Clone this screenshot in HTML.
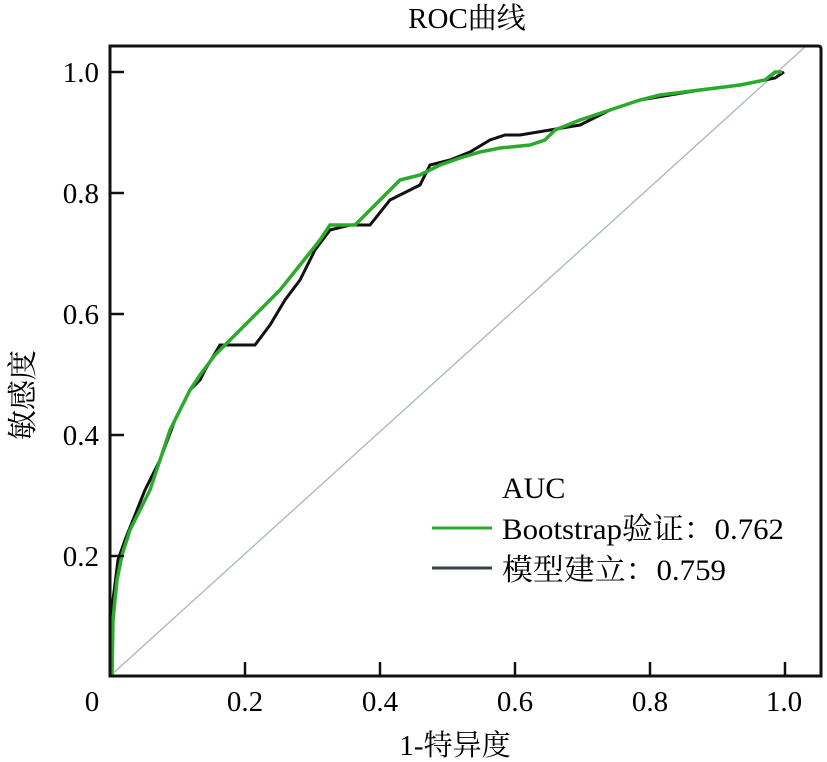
<!DOCTYPE html>
<html><head><meta charset="utf-8"><style>
body{margin:0;background:#fff}
svg{display:block}
text{font-family:"Liberation Serif","Noto Serif CJK SC",serif;fill:#000}
</style></head><body>
<svg width="827" height="762" viewBox="0 0 827 762">
<text x="467" y="28" font-size="29" text-anchor="middle">ROC曲线</text>
<line x1="110" y1="676" x2="806" y2="46" stroke="#a9b4c2" stroke-width="1.3"/>
<polyline fill="none" stroke="#111" stroke-width="3" points="112,676 113,600 118,560 125,540 135,515 145,490 160,460 175,420 190,390 200,380 205,370 220,345 235,345 255,345 270,325 285,300 300,280 315,250 330,230 350,225 370,225 390,200 410,190 420,185 430,165 450,160 470,152 490,140 505,135 520,135 550,130 580,125 610,110 640,100 700,90 740,85 775,78 784,72"/>
<polyline fill="none" stroke="#2bab2b" stroke-width="3.5" points="112,676 113,620 117,580 122,555 130,530 140,510 150,490 160,460 170,430 180,410 190,390 200,375 215,355 230,340 245,325 260,310 280,290 300,265 320,240 330,225 355,225 370,210 385,195 400,180 420,175 440,165 460,158 480,152 500,148 530,145 545,140 555,130 580,120 610,110 640,100 660,95 700,90 740,85 765,80 775,72 782,72"/>
<path d="M110,46 H818 Q821,46 821,49 V676 H110 Z" fill="none" stroke="#111" stroke-width="3"/>
<g stroke="#111" stroke-width="2.5">
<line x1="245" y1="676" x2="245" y2="662"/><line x1="380" y1="676" x2="380" y2="662"/>
<line x1="515" y1="676" x2="515" y2="662"/><line x1="650" y1="676" x2="650" y2="662"/>
<line x1="785" y1="676" x2="785" y2="662"/>
<line x1="110" y1="72" x2="124" y2="72"/><line x1="110" y1="193" x2="124" y2="193"/>
<line x1="110" y1="314" x2="124" y2="314"/><line x1="110" y1="435" x2="124" y2="435"/>
<line x1="110" y1="556" x2="124" y2="556"/>
</g>
<g font-size="29" text-anchor="middle">
<text x="92" y="711">0</text><text x="245" y="711">0.2</text><text x="380" y="711">0.4</text>
<text x="515" y="711">0.6</text><text x="650" y="711">0.8</text><text x="784" y="711">1.0</text>
</g>
<g font-size="29" text-anchor="end">
<text x="99" y="82">1.0</text><text x="99" y="203">0.8</text><text x="99" y="324">0.6</text>
<text x="99" y="445">0.4</text><text x="99" y="566">0.2</text>
</g>
<text x="455" y="755" font-size="29" text-anchor="middle">1-特异度</text>
<text transform="translate(33,395) rotate(-90)" font-size="30" text-anchor="middle">敏感度</text>
<text x="502" y="498" font-size="30">AUC</text>
<line x1="432" y1="528" x2="492" y2="528" stroke="#2bab2b" stroke-width="3"/>
<line x1="432" y1="568" x2="492" y2="568" stroke="#3a4048" stroke-width="3"/>
<text x="502" y="539" font-size="30" textLength="282" lengthAdjust="spacingAndGlyphs">Bootstrap验证：0.762</text>
<text x="502" y="580" font-size="30" textLength="224" lengthAdjust="spacingAndGlyphs">模型建立：0.759</text>
</svg>
</body></html>
